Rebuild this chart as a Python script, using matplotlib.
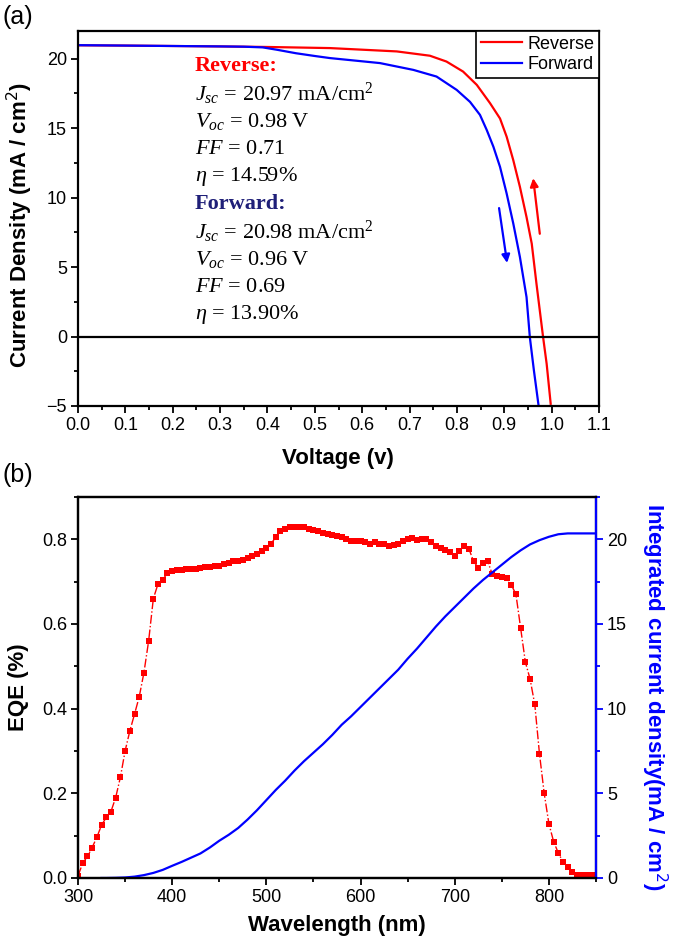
import numpy as np
import matplotlib
matplotlib.use("Agg")
import matplotlib.pyplot as plt
from matplotlib.ticker import MultipleLocator, FormatStrFormatter

# ---------------- data ----------------
# (a) J-V curves
v_rev = [0.0, 0.1, 0.2, 0.3, 0.4, 0.532, 0.673, 0.743, 0.778, 0.813, 0.842, 0.870,
         0.891, 0.905, 0.919, 0.933, 0.947, 0.958, 0.968, 0.982, 0.9895, 0.998]
j_rev = [20.97, 20.95, 20.92, 20.89, 20.85, 20.77, 20.53, 20.22, 19.8, 19.08, 18.12,
         16.8, 15.7, 14.39, 12.7, 10.78, 8.6, 6.69, 3.8, -0.05, -1.97, -4.84]
v_fwd = [0.0, 0.1, 0.2, 0.3, 0.35, 0.39, 0.42, 0.46, 0.5, 0.532, 0.6375, 0.708,
         0.757, 0.7995, 0.8276, 0.8487, 0.863, 0.877, 0.891, 0.905, 0.919, 0.933,
         0.947, 0.954, 0.9626, 0.972]
j_fwd = [20.98, 20.95, 20.92, 20.89, 20.87, 20.82, 20.65, 20.4, 20.2, 20.05, 19.69,
         19.2, 18.72, 17.76, 16.9, 15.96, 14.87, 13.67, 12.22, 10.3, 8.14, 5.73,
         2.84, -0.05, -2.45, -4.86]
legend_labels = ["Reverse", "Forward"]

rev_text = ["Reverse:", r"$J_{sc}$ = 20.97 mA/cm$^{2}$", r"$V_{oc}$ = 0.98 V",
            r"$FF$ = 0.71", r"$\eta$ = 14.59%"]
fwd_text = ["Forward:", r"$J_{sc}$ = 20.98 mA/cm$^{2}$", r"$V_{oc}$ = 0.96 V",
            r"$FF$ = 0.69", r"$\eta$ = 13.90%"]

# (b) EQE spectrum (every 5 nm)
wl = list(range(300, 855, 5))
eqe = [0.005, 0.035, 0.051, 0.072, 0.096, 0.125, 0.143, 0.157, 0.19, 0.238,
       0.30, 0.347, 0.387, 0.428, 0.485, 0.56, 0.66, 0.695, 0.705, 0.72,
       0.725, 0.727, 0.728, 0.729, 0.73, 0.731, 0.732, 0.734, 0.735, 0.736,
       0.738, 0.742, 0.745, 0.748, 0.75, 0.752, 0.755, 0.76, 0.765, 0.772,
       0.78, 0.79, 0.805, 0.82, 0.825, 0.828, 0.83, 0.83, 0.828, 0.825,
       0.823, 0.82, 0.815, 0.812, 0.81, 0.808, 0.805, 0.80, 0.797, 0.795,
       0.795, 0.793, 0.79, 0.793, 0.79, 0.788, 0.785, 0.787, 0.79, 0.795,
       0.80, 0.802, 0.798, 0.80, 0.80, 0.793, 0.785, 0.78, 0.775, 0.77,
       0.76, 0.772, 0.785, 0.778, 0.748, 0.733, 0.745, 0.748, 0.717, 0.713,
       0.71, 0.709, 0.693, 0.67, 0.59, 0.51, 0.47, 0.41, 0.293, 0.20,
       0.128, 0.086, 0.059, 0.038, 0.026, 0.015, 0.007, 0.006, 0.006, 0.006,
       0.006]

# integrated current density
wl_int = [325, 330, 340, 350, 360, 370, 380, 390, 400, 410, 420, 430, 440, 450,
          460, 470, 480, 490, 500, 510, 520, 530, 540, 550, 560, 570, 580, 590,
          600, 610, 620, 630, 640, 650, 660, 670, 680, 690, 700, 710, 720, 730,
          740, 750, 760, 770, 780, 790, 800, 810, 820, 830, 840, 850]
j_int = [0.0, 0.0, 0.01, 0.03, 0.08, 0.17, 0.3, 0.48, 0.72, 0.95, 1.2, 1.45,
         1.8, 2.2, 2.55, 2.95, 3.45, 4.0, 4.6, 5.2, 5.75, 6.35, 6.9, 7.4, 7.9,
         8.45, 9.05, 9.55, 10.1, 10.65, 11.2, 11.75, 12.3, 12.95, 13.55, 14.2,
         14.85, 15.45, 16.0, 16.55, 17.1, 17.6, 18.05, 18.5, 18.95, 19.35, 19.7,
         19.95, 20.15, 20.3, 20.35, 20.35, 20.35, 20.35]

# ---------------- figure ----------------
W, H = 675, 943
fig = plt.figure(figsize=(W / 100, H / 100), dpi=100)
plt.rcParams['font.family'] = ['Liberation Sans', 'DejaVu Sans']
plt.rcParams['mathtext.fontset'] = 'custom'
plt.rcParams['mathtext.rm'] = 'Liberation Serif'
plt.rcParams['mathtext.it'] = 'Liberation Serif:italic'
plt.rcParams['mathtext.bf'] = 'Liberation Serif:bold'

TICK_FS = 13
LABEL_FS = 16


def px_rect(l, t, r, b):
    return [l / W, 1 - b / H, (r - l) / W, (b - t) / H]


def style_axes(ax):
    for s in ax.spines.values():
        s.set_linewidth(1.6)
    ax.tick_params(which='both', direction='out', width=1.3, labelsize=TICK_FS,
                   top=False, right=False, pad=3)
    ax.tick_params(which='major', length=5)
    ax.tick_params(which='minor', length=3)


# ---- panel (a) ----
ax1 = fig.add_axes(px_rect(78, 31, 599, 406))
ax1.plot(v_rev, j_rev, color='#ff0000', lw=1.6, label=legend_labels[0])
ax1.plot(v_fwd, j_fwd, color='#0000ff', lw=1.6, label=legend_labels[1])
ax1.axhline(0, color='black', lw=1.6)
ax1.set_xlim(0, 1.1)
ax1.set_ylim(-5, 22)
ax1.xaxis.set_major_locator(MultipleLocator(0.1))
ax1.xaxis.set_minor_locator(MultipleLocator(0.05))
ax1.xaxis.set_major_formatter(FormatStrFormatter('%.1f'))
ax1.yaxis.set_major_locator(MultipleLocator(5))
ax1.yaxis.set_minor_locator(MultipleLocator(2.5))
style_axes(ax1)
leg = ax1.legend(loc='upper right', bbox_to_anchor=(1.0, 1.0), borderaxespad=0,
                 fancybox=False, edgecolor='black', framealpha=1, fontsize=13,
                 handlelength=2.3, handletextpad=0.3, borderpad=0.25,
                 labelspacing=0.2)
leg.get_frame().set_linewidth(1.2)

# annotation block
x0 = 0.247
y0 = 19.45
dy = 27.5 / 13.85
lines = rev_text + fwd_text
for i, t in enumerate(lines):
    kw = dict(fontsize=16, family=['Liberation Serif', 'DejaVu Serif'], va='center', ha='left')
    if i == 0:
        kw.update(color='#ff0000', fontweight='bold')
    elif i == 5:
        kw.update(color='#1f1f78', fontweight='bold')
    else:
        kw.update(color='black')
    ax1.text(x0, y0 - i * dy, t, **kw)

# hysteresis arrows
ax1.annotate('', xy=(0.961, 11.4), xytext=(0.975, 7.4),
             arrowprops=dict(arrowstyle='-|>', color='#ff0000', lw=1.6,
                             mutation_scale=12, shrinkA=0, shrinkB=0))
ax1.annotate('', xy=(0.906, 5.3), xytext=(0.889, 9.25),
             arrowprops=dict(arrowstyle='-|>', color='#0000ff', lw=1.6,
                             mutation_scale=12, shrinkA=0, shrinkB=0))

fig.text(2 / W, 1 - 17 / H, '(a)', fontsize=18, ha='left', va='center')
fig.text(20 / W, 1 - 225 / H, 'Current Density (mA / cm$^{2}$)', rotation=90,
         fontsize=LABEL_FS, fontweight='bold', ha='center', va='center',
         math_fontfamily='dejavusans')
fig.text(338 / W, 1 - 459 / H, 'Voltage (v)', fontsize=LABEL_FS, fontweight='bold',
         ha='center', va='center')

# ---- panel (b) ----
ax2 = fig.add_axes(px_rect(78, 497, 596, 878))
ax2.plot(wl, eqe, color='#ff0000', lw=1.0, ls='-.', marker='s', markersize=5,
         markeredgewidth=0)
ax2.set_xlim(300, 850)
ax2.set_ylim(0, 0.9)
ax2.xaxis.set_major_locator(MultipleLocator(100))
ax2.xaxis.set_minor_locator(MultipleLocator(50))
ax2.yaxis.set_major_locator(MultipleLocator(0.2))
ax2.yaxis.set_minor_locator(MultipleLocator(0.1))
ax2.yaxis.set_major_formatter(FormatStrFormatter('%.1f'))
style_axes(ax2)

ax3 = ax2.twinx()
ax3.plot(wl_int, j_int, color='#0000ff', lw=1.6)
ax3.set_ylim(0, 22.5)
ax3.yaxis.set_major_locator(MultipleLocator(5))
ax3.yaxis.set_minor_locator(MultipleLocator(2.5))
for s in ax3.spines.values():
    s.set_linewidth(1.6)
ax3.spines['right'].set_color('#0000ff')
ax3.tick_params(which='both', direction='out', width=1.3, labelsize=TICK_FS,
                colors='#0000ff', labelcolor='black', right=True, left=False, pad=3)
ax3.tick_params(which='major', length=5)
ax3.tick_params(which='minor', length=3)

fig.text(2 / W, 1 - 475 / H, '(b)', fontsize=18, ha='left', va='center')
fig.text(19 / W, 1 - 687 / H, 'EQE (%)', rotation=90, fontsize=LABEL_FS,
         fontweight='bold', ha='center', va='center')
fig.text(337 / W, 1 - 926 / H, 'Wavelength (nm)', fontsize=LABEL_FS,
         fontweight='bold', ha='center', va='center')
fig.text(654 / W, 1 - 697 / H, 'Integrated current density(mA / cm$^{2}$)',
         rotation=270, fontsize=LABEL_FS, fontweight='bold', color='#0000ff',
         ha='center', va='center', math_fontfamily='dejavusans')

fig.savefig('out.png', dpi=100)
